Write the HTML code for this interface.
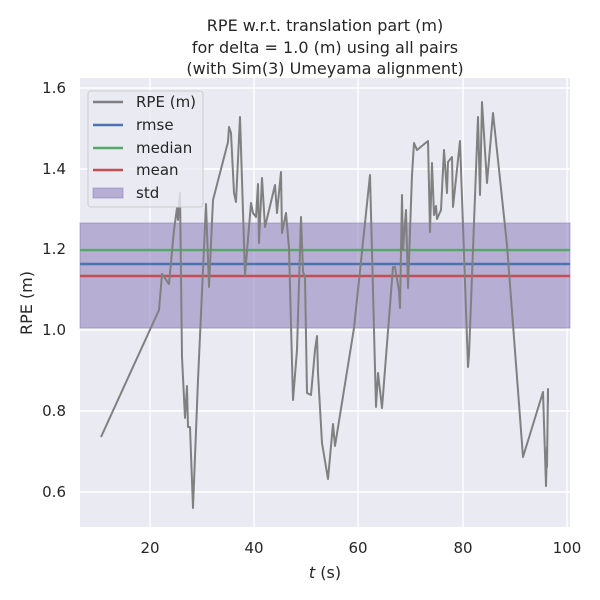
<!DOCTYPE html>
<html><head><style>body{margin:0;background:#fff}svg{display:block}text{font-family:"DejaVu Sans","Liberation Sans",sans-serif;fill:#262626}</style></head><body>
<svg width="600" height="600" viewBox="0 0 600 600">
<rect x="80" y="78" width="490" height="449" fill="#eaeaf2"/>
<g stroke="#fff" stroke-width="1.4">
<line x1="150" y1="78" x2="150" y2="527"/><line x1="254" y1="78" x2="254" y2="527"/><line x1="358" y1="78" x2="358" y2="527"/><line x1="463" y1="78" x2="463" y2="527"/><line x1="567" y1="78" x2="567" y2="527"/>
<line x1="80" y1="88" x2="570" y2="88"/><line x1="80" y1="169" x2="570" y2="169"/><line x1="80" y1="249" x2="570" y2="249"/><line x1="80" y1="330" x2="570" y2="330"/><line x1="80" y1="411" x2="570" y2="411"/><line x1="80" y1="492" x2="570" y2="492"/>
</g>
<rect x="80" y="223" width="490" height="105" fill="#8172b3" fill-opacity="0.5" stroke="#8172b3" stroke-opacity="0.5"/>
<line x1="80" y1="250" x2="570" y2="250" stroke="#55a868" stroke-width="2.5"/>
<line x1="80" y1="264" x2="570" y2="264" stroke="#4c72b0" stroke-width="2.5"/>
<line x1="80" y1="276" x2="570" y2="276" stroke="#c44e52" stroke-width="2.5"/>
<polyline fill="none" stroke="#808080" stroke-width="2" stroke-linejoin="round" points="101,437 159,310 162,274 169,284 174,230 177,208 178,220 180,193 182,357 185,418 187,386 188,427 190,427 193,508 198,380 206,204 209,287 213,200 228,142 229,127 231,133 234,193 236,202 240,117 245,275 251,203 253,213 256,217 258,184 259,243 262,178 265,227 275,185 277,213 281,172 282,233 286,213 289,248 293,400 297,350 301,217 303,272 305,277 307,393 311,395 315,350 317,336 318,373 322,443 328,479 333,424 335,446 354,328 370,175 376,407 378,373 382,408 393,267 395,267 399,291 400,308 402,195 403,250 406,210 408,288 412,175 414,143 417,150 428,141 430,232 432,163 434,215 436,206 437,219 441,210 444,150 447,193 448,162 452,157 453,207 460,141 468,367 469,355 478,117 480,195 482,102 487,183 493,113 507,245 523,457 543,392 546,486 547,447 547,467 548,389 548,403"/>
<g font-size="15" text-anchor="middle">
<text x="150" y="553">20</text><text x="254" y="553">40</text><text x="358" y="553">60</text><text x="463" y="553">80</text><text x="567" y="553">100</text>
</g>
<g font-size="15" text-anchor="end">
<text x="66" y="93">1.6</text><text x="66" y="174">1.4</text><text x="66" y="254">1.2</text><text x="66" y="335">1.0</text><text x="66" y="416">0.8</text><text x="66" y="497">0.6</text>
</g>
<text x="325" y="578" font-size="16" text-anchor="middle"><tspan font-style="italic">t</tspan> (s)</text>
<text transform="translate(32,303) rotate(-90)" font-size="16" text-anchor="middle">RPE (m)</text>
<g font-size="16" text-anchor="middle">
<text x="325" y="31">RPE w.r.t. translation part (m)</text>
<text x="325" y="53">for delta = 1.0 (m) using all pairs</text>
<text x="325" y="74">(with Sim(3) Umeyama alignment)</text>
</g>
<rect x="88" y="91" width="115" height="116" rx="3" fill="#eaeaf2" fill-opacity="0.8" stroke="#ccc"/>
<line x1="93" y1="102" x2="123" y2="102" stroke="#808080" stroke-width="2.5"/>
<line x1="93" y1="125" x2="123" y2="125" stroke="#4c72b0" stroke-width="2.5"/>
<line x1="93" y1="148" x2="123" y2="148" stroke="#55a868" stroke-width="2.5"/>
<line x1="93" y1="170" x2="123" y2="170" stroke="#c44e52" stroke-width="2.5"/>
<rect x="93" y="188" width="30" height="10" fill="#8172b3" fill-opacity="0.5" stroke="#8172b3" stroke-opacity="0.5"/>
<g font-size="15"><text x="136" y="107">RPE (m)</text><text x="136" y="130">rmse</text><text x="136" y="153">median</text><text x="136" y="175">mean</text><text x="136" y="198">std</text></g>
</svg>
</body></html>
